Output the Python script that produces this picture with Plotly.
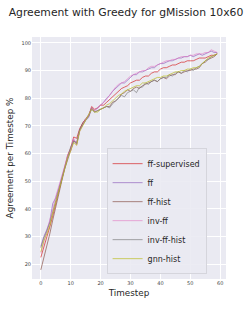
import plotly.graph_objects as go

timesteps = list(range(60))

ff_supervised = [22.5, 26, 29.5, 33.5, 37.5, 42, 46, 50, 54.5, 59.5, 62, 66, 65.5, 69, 71, 72.5, 73.5, 77, 76, 76.5,
                 77.5, 77.5, 78.5, 79.5, 80.5, 81.5, 82.5, 83.5, 84, 84.5, 85.5, 86, 86.5, 86.5, 87.5, 88, 88, 89, 89.5, 89.5,
                 90.5, 91, 91, 91.5, 92, 92, 92.5, 93, 93, 93.5, 93.5, 93.5, 94, 94.5, 94.5, 94.5, 95, 95.5, 95.5, 96]
ff = [26.5, 30, 32.5, 35.5, 42, 44, 47.5, 51.5, 55, 59, 61.5, 65, 63.5, 68.5, 70.5, 72, 73, 76.5, 75.5, 76.5,
      77.5, 78.5, 80, 81, 82.5, 83.5, 84.5, 85.5, 85.5, 86.5, 87.5, 88.5, 88.5, 89.5, 89.5, 90, 90.5, 91, 91, 92,
      92.5, 92.5, 93, 93.5, 93.5, 94, 94.5, 94.5, 95, 95, 95.5, 95, 95.5, 96, 95.5, 96, 96.5, 97, 96.5, 96.5]
ff_hist = [18, 22, 26, 31, 36, 41, 45.5, 50, 54.5, 58, 61, 64.5, 64, 68.5, 71, 72.5, 74, 76.5, 75, 75.5,
           76, 76.5, 77, 77, 78.5, 79, 80, 81.5, 82, 83, 82.5, 83.5, 84, 83.5, 84.5, 85, 85.5, 86, 86.5, 86,
           87, 87.5, 87, 88, 88.5, 88.5, 89.5, 89, 89.5, 90, 90, 90.5, 90.5, 91, 92.5, 93, 94, 94.5, 95, 96]
inv_ff = [24, 28, 31.5, 35, 40, 44.5, 48, 52, 55.5, 59.5, 61, 65.5, 63, 68, 70.5, 72.5, 73.5, 76.5, 75.5, 76.5,
          77.5, 78.5, 79.5, 81, 82.5, 84, 85, 85.5, 86, 87, 88, 88.5, 89, 89.5, 90, 90, 91, 91.5, 91.5, 92,
          92.5, 93, 93.5, 93.5, 94, 94, 94.5, 95, 95, 95, 95.5, 95.5, 96, 96, 96, 96.5, 96.5, 97.5, 97, 96.5]
inv_ff_hist = [26, 29.5, 32, 35, 39, 43, 47, 51, 55, 59, 62.5, 64.5, 63.5, 68.5, 70.5, 72, 73.5, 76, 75, 75.5,
               76, 76.5, 77, 76.5, 78, 79, 80, 81, 80.5, 82, 82.5, 83, 82, 84, 84, 85.5, 85, 86, 86.5, 86,
               87, 87.5, 87.5, 88.5, 88, 89, 89.5, 89, 90, 89.5, 90.5, 90, 91, 91.5, 92.5, 93.5, 94, 95, 95.5, 96]
gnn_hist = [24.5, 28.5, 31, 34, 38.5, 42.5, 46.5, 50.5, 54, 58.5, 61, 64, 63, 68, 70, 72, 73.5, 76, 75, 75,
            76, 76.5, 77.5, 78, 79, 80, 81, 81.5, 82.5, 83, 83.5, 84, 84.5, 84.5, 85.5, 85.5, 86, 86.5, 87, 87.5,
            87.5, 88, 88, 88.5, 89, 89.5, 89.5, 90, 90, 90.5, 90.5, 91, 91, 91.5, 92.5, 93.5, 94.5, 95, 95.5, 96]

series_names = ["ff-supervised", "ff", "ff-hist", "inv-ff", "inv-ff-hist", "gnn-hist"]
series_values = [ff_supervised, ff, ff_hist, inv_ff, inv_ff_hist, gnn_hist]
series_colors = ["rgba(214,39,40,0.7)", "rgba(148,103,189,0.7)", "rgba(140,86,75,0.7)",
                 "rgba(227,119,194,0.6)", "rgba(127,127,127,0.7)", "rgba(188,189,34,0.7)"]

for v in series_values:
    assert len(v) == len(timesteps), len(v)

fig = go.Figure()
for name, vals, col in zip(series_names, series_values, series_colors):
    fig.add_trace(go.Scatter(x=timesteps, y=vals, mode="lines", name=name,
                             line=dict(color=col, width=1)))

fig.update_layout(
    width=252, height=315,
    margin=dict(l=32, r=26, t=37, b=36, autoexpand=False),
    paper_bgcolor="white",
    plot_bgcolor="#EAEAF2",
    font=dict(family="DejaVu Sans", color="#262626"),
    title=dict(text="Agreement with Greedy for gMission 10x60", x=0.5, xanchor="center", xref="container",
               y=0.962, yanchor="middle", font=dict(size=10.8, color="#262626")),
    xaxis=dict(range=[-2.95, 61.95], tickvals=[0, 10, 20, 30, 40, 50, 60], automargin=False,
               showgrid=True, gridcolor="white", gridwidth=1, zeroline=False,
               showline=False, ticks="", tickfont=dict(size=5, color="#444"),
               title=dict(text="Timestep", font=dict(size=8.8), standoff=4)),
    yaxis=dict(range=[14.7, 102.1], tickvals=[20, 30, 40, 50, 60, 70, 80, 90, 100], automargin=False,
               showgrid=True, gridcolor="white", gridwidth=1, zeroline=False,
               showline=False, ticks="", tickfont=dict(size=5, color="#444"),
               title=dict(text="Agreement per Timestep %", font=dict(size=8.8), standoff=6)),
    legend=dict(x=0.9, y=0.02, xanchor="right", yanchor="bottom",
                bgcolor="rgba(234,234,242,0.9)", bordercolor="#D5D5DC", borderwidth=1,
                font=dict(size=8, color="#262626"), itemwidth=30, tracegroupgap=0),
    showlegend=True,
)

fig.write_html("out.html", config={"displayModeBar": False},
               post_script="document.body.style.margin='0';document.body.style.overflow='hidden';")
